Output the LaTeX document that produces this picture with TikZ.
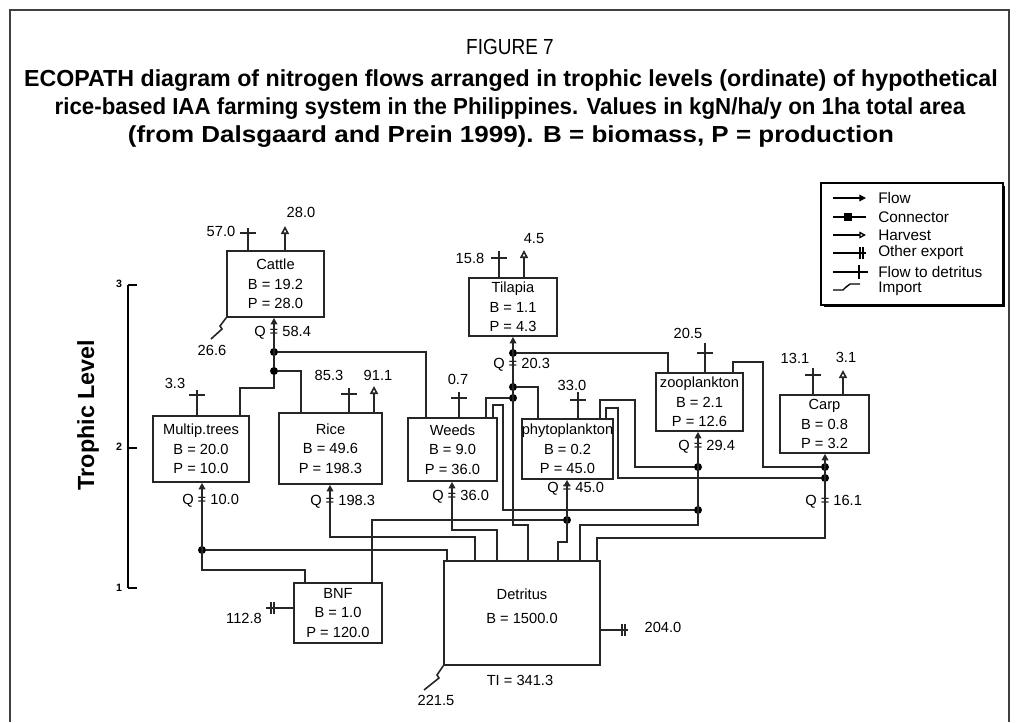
\documentclass[tikz,border=0pt]{standalone}
\usepackage{fontspec}
\setmainfont{Liberation Sans}
\usetikzlibrary{arrows.meta}
\newcommand\ftdup[4]{% box, x, top y, bar y
  \coordinate (#1ftd) at (#2,#3);
  \draw[ln] (#1.north -| #1ftd) -- (#1ftd);
  \draw[ln] (#2-8,#4) -- (#2+8,#4);}
\newcommand\harvup[3]{% box, x, top y
  \coordinate (#1hv) at (#2,#3);
  \draw[ln,-{Triangle[open,length=6pt,width=6pt]}] (#1.north -| #1hv) -- (#1hv);}
\begin{document}
\begin{tikzpicture}[x=0.75pt,y=-0.75pt,
  ln/.style={line width=1.2pt, draw=black!85},
  comp/.style={draw=black!85, line width=1.2pt, inner sep=0pt, align=center,
    font=\fontsize{11}{14.5}\selectfont},
  lab/.style={font=\fontsize{11}{13}\selectfont, inner sep=0pt},
  cdot/.style={circle, fill=black, inner sep=0pt, minimum size=6pt},
  qin/.style={{Triangle[length=5pt,width=5pt]}-},
  ttl/.style={font=\bfseries\fontsize{17.4}{20}\selectfont, inner sep=0pt},
  leg/.style={font=\fontsize{11.5}{13}\selectfont, anchor=west, inner sep=0pt}]
\useasboundingbox (0,0) rectangle (1020,722);
% frame
\draw[line width=1.5pt, black!75] (10,722) -- (10,10) -- (1009,10) -- (1009,722);
% title
\node[inner sep=0pt] (fig) at (510,47) {\scalebox{1}[1.15]{\fontsize{14.25}{17}\selectfont FIGURE 7}};
\node[ttl] (t1) at (511,81) {ECOPATH diagram of nitrogen flows arranged in trophic levels (ordinate) of hypothetical};
\node[ttl] (t2) at (510,109) {\scalebox{0.96}[1]{rice-based IAA farming system in the Philippines. Values in kgN/ha/y on 1ha total area}};
\node[ttl] (t3) at (511,137) {\scalebox{1.12}[1]{(from Dalsgaard and Prein 1999). B = biomass, P = production}};
% axis
\node[rotate=90, font=\bfseries\fontsize{17.5}{20}\selectfont, inner sep=0pt] (tl) at (88,415) {Trophic Level};
\draw[line width=1pt] (128,285) -- (128,588);
\draw[line width=1pt] (128,285) -- (137,285);
\draw[line width=1pt] (128,448) -- (137,448);
\draw[line width=1pt] (128,588) -- (137,588);
\node[font=\bfseries\fontsize{8}{9}\selectfont, inner sep=0pt] (ax3) at (119,284) {3};
\node[font=\bfseries\fontsize{8}{9}\selectfont, inner sep=0pt] (ax2) at (119,447) {2};
\node[font=\bfseries\fontsize{8}{9}\selectfont, inner sep=0pt] (ax1) at (119,588) {1};
% compartments
\node[comp, minimum width=97*0.75pt, minimum height=66*0.75pt] (cattle) at (275.5,284) {Cattle\\B = 19.2\\P = 28.0};
\node[comp, minimum width=96*0.75pt, minimum height=66*0.75pt] (multip) at (201,449) {Multip.trees\\B = 20.0\\P = 10.0};
\node[comp, minimum width=103*0.75pt, minimum height=71*0.75pt] (rice) at (330.5,448.5) {Rice\\B = 49.6\\P = 198.3};
\node[comp, minimum width=89*0.75pt, minimum height=63*0.75pt] (weeds) at (452.5,449.5) {Weeds\\B = 9.0\\P = 36.0};
\node[comp, minimum width=88*0.75pt, minimum height=58*0.75pt] (tilapia) at (513,307) {Tilapia\\B = 1.1\\P = 4.3};
\node[comp, minimum width=91*0.75pt, minimum height=60*0.75pt] (phyto) at (567.5,449) {phytoplankton\\B = 0.2\\P = 45.0};
\node[comp, minimum width=87*0.75pt, minimum height=58*0.75pt] (zoo) at (699.5,402) {zooplankton\\B = 2.1\\P = 12.6};
\node[comp, minimum width=89*0.75pt, minimum height=58*0.75pt] (carp) at (824.5,424) {Carp\\B = 0.8\\P = 3.2};
\node[comp, minimum width=88*0.75pt, minimum height=60*0.75pt] (bnf) at (338,613) {BNF\\B = 1.0\\P = 120.0};
\node[comp, minimum width=156*0.75pt, minimum height=104*0.75pt] (detritus) at (522,613) {};
\node[lab, align=center, font=\fontsize{11}{18}\selectfont] (dettxt) at (522,606) {Detritus\\B = 1500.0};
% exports: flow to detritus and harvest
\ftdup{cattle}{248}{228}{233}
\harvup{cattle}{285}{226}
\ftdup{multip}{197}{390}{395}
\ftdup{rice}{349}{388}{394}
\harvup{rice}{374}{386}
\ftdup{weeds}{459}{392}{398}
\ftdup{tilapia}{499}{251}{258}
\harvup{tilapia}{524}{250}
\ftdup{phyto}{578}{392}{400}
\ftdup{zoo}{705}{343}{353}
\ftdup{carp}{813}{368}{375}
\harvup{carp}{843}{370}
% export labels
\node[lab] (l570) at (221,231) {57.0};
\node[lab] (l280) at (301,212) {28.0};
\node[lab] (l33) at (175,383) {3.3};
\node[lab] (l853) at (329,375) {85.3};
\node[lab] (l911) at (378,375) {91.1};
\node[lab] (l07) at (458,379) {0.7};
\node[lab] (l158) at (470,258) {15.8};
\node[lab] (l45) at (534,239) {4.5};
\node[lab] (l330) at (572,385) {33.0};
\node[lab] (l205) at (688,333) {20.5};
\node[lab] (l131) at (795,358) {13.1};
\node[lab] (l31) at (846,357) {3.1};
% imports
\coordinate (cimp) at (211,339);
\draw[ln] (cattle.south west) -- (220,326) -- (222,329) -- (cimp);
\node[lab] (l266) at (212,350) {26.6};
\coordinate (dimp) at (424,690);
\draw[ln] (detritus.south west) -- (437,675) -- (439,678) -- (dimp);
\node[lab] (l2215) at (436,700) {221.5};
\node[lab] (lti) at (520,680) {TI = 341.3};
% other exports
\coordinate (bex) at (266,608);
\draw[ln] (bnf.west |- bex) -- (bex);
\draw[ln] (271,602) -- (271,614); \draw[ln] (274,602) -- (274,614);
\node[lab] (l1128) at (244,618) {112.8};
\coordinate (dex) at (628,630);
\draw[ln] (detritus.east |- dex) -- (dex);
\draw[ln] (622,624) -- (622,636); \draw[ln] (625,624) -- (625,636);
\node[lab] (l2040) at (663,627) {204.0};
% Q labels
\node[lab, anchor=west] (qc) at (254,333) {Q = 58.4};
\node[lab, anchor=west] (qm) at (182,501) {Q = 10.0};
\node[lab, anchor=west] (qr) at (310,502) {Q = 198.3};
\node[lab, anchor=west] (qw) at (432,497) {Q = 36.0};
\node[lab, anchor=west] (qt) at (493,365) {Q = 20.3};
\node[lab, anchor=west] (qp) at (547,489) {Q = 45.0};
\node[lab, anchor=west] (qz) at (678,447) {Q = 29.4};
\node[lab, anchor=west] (qk) at (805,502) {Q = 16.1};
% connector dots
\node[cdot] (cd1) at (274,352) {};
\node[cdot] (cd2) at (274,371) {};
\node[cdot] (td1) at (513,353) {};
\node[cdot] (td2) at (513,387) {};
\node[cdot] (td3) at (513,398) {};
\node[cdot] (zd1) at (698,467) {};
\node[cdot] (zd2) at (698,510) {};
\node[cdot] (kd1) at (825,467) {};
\node[cdot] (kd2) at (825,478) {};
\node[cdot] (pd) at (567,520) {};
\node[cdot] (md) at (202,550) {};
% cattle
\draw[ln,qin] (cattle.south -| cd1) -- (cd2);
\coordinate (wc) at (426,352);
\draw[ln] (cd1) -- (wc) -- (weeds.north -| wc);
\coordinate (mc) at (240,388);
\draw[ln] (cd2) -- (274,388) -- (mc) -- (multip.north -| mc);
\coordinate (rc) at (301,371);
\draw[ln] (cd2) -- (rc) -- (rice.north -| rc);
% tilapia
\coordinate (tq) at (513,525); \coordinate (tq2) at (528,525);
\draw[ln,qin] (tilapia.south -| td1) -- (tq) -- (tq2) -- (detritus.north -| tq2);
\coordinate (zt) at (668,353);
\draw[ln] (td1) -- (zt) -- (zoo.north -| zt);
\coordinate (pt) at (538,387);
\draw[ln] (td2) -- (pt) -- (phyto.north -| pt);
\coordinate (wt) at (486,398);
\draw[ln] (td3) -- (wt) -- (weeds.north -| wt);
% zooplankton
\coordinate (zq) at (698,525); \coordinate (zq2) at (580,525);
\draw[ln,qin] (zoo.south -| zd1) -- (zq) -- (zq2) -- (detritus.north -| zq2);
\coordinate (wz1) at (493,405);
\draw[ln] (weeds.north -| wz1) -- (wz1) -- (503,405) -- (503,510) -- (zd2);
\coordinate (pz1) at (600,400);
\draw[ln] (phyto.north -| pz1) -- (pz1) -- (635,400) -- (635,467) -- (zd1);
% carp
\coordinate (pk1) at (606,408);
\draw[ln] (phyto.north -| pk1) -- (pk1) -- (618,408) -- (618,478) -- (kd2);
\coordinate (zk1) at (733,362);
\draw[ln] (zoo.north -| zk1) -- (zk1) -- (763,362) -- (763,467) -- (kd1);
\coordinate (kq) at (597,538);
\draw[ln,qin] (carp.south -| kd1) -- (825,538) -- (kq) -- (detritus.north -| kq);
% phytoplankton
\coordinate (pq) at (558,542);
\draw[ln,qin] (phyto.south -| pd) -- (567,542) -- (pq) -- (detritus.north -| pq);
\coordinate (bp) at (372,520);
\draw[ln] (bnf.north -| bp) -- (bp) -- (pd);
% weeds
\coordinate (wq) at (497,530);
\draw[ln,qin] (weeds.south -| 452,0) -- (452,530) -- (wq) -- (detritus.north -| wq);
% rice
\coordinate (rq) at (475,537);
\draw[ln,qin] (rice.south -| 330,0) -- (330,537) -- (rq) -- (detritus.north -| rq);
% multip
\coordinate (mq) at (305,570);
\draw[ln,qin] (multip.south -| md) -- (202,570) -- (mq) -- (bnf.north -| mq);
\coordinate (md2) at (447,550);
\draw[ln] (md) -- (md2) -- (detritus.north -| md2);
% legend
\node[draw, line width=0.8pt, minimum width=182*0.75pt, minimum height=122*0.75pt, inner sep=0pt] (legend) at (912,244) {};
\draw[line width=2.2pt] ([yshift=-3pt]legend.north east) -- (legend.south east) -- ([xshift=3pt]legend.south west);
\draw[line width=1pt, -{Triangle[length=5pt,width=5pt]}] (833,198) -- (866,198);
\draw[line width=1pt] (833,217) -- (866,217);
\fill (844,213) rectangle (852,221);
\draw[line width=1pt, -{Triangle[open,length=5pt,width=5pt]}] (833,235) -- (866,235);
\draw[line width=1pt] (833,253) -- (866,253);
\draw[line width=1pt] (860,247) -- (860,259); \draw[line width=1pt] (863,247) -- (863,259);
\draw[line width=1pt] (833,272) -- (868,272);
\draw[line width=1pt] (859,265) -- (859,279);
\draw[line width=1pt] (833,290) -- (843,290) -- (847,286) -- (845,288) -- (850,284) -- (860,284);
\node[leg] (lg1) at (878,198) {Flow};
\node[leg] (lg2) at (878,217) {Connector};
\node[leg] (lg3) at (878,235) {Harvest};
\node[leg] (lg4) at (878,253) {Other export};
\node[leg] (lg5) at (878,272) {Flow to detritus};
\node[leg] (lg6) at (878,289) {Import};
\end{tikzpicture}
\end{document}
